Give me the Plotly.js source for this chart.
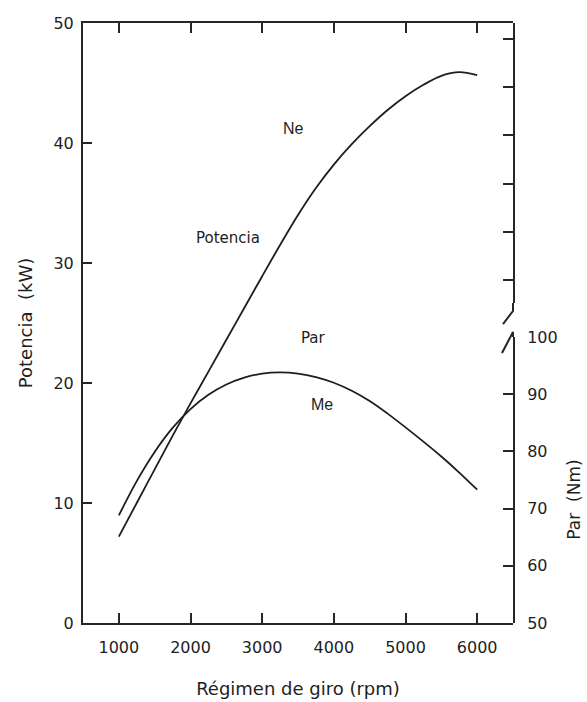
<!DOCTYPE html>
<html>
<head>
<meta charset="utf-8">
<script src="https://cdn.plot.ly/plotly-3.0.1.min.js"></script>
<style>html,body{margin:0;padding:0;background:#fff;}#chart{width:587px;height:702px;}</style>
</head>
<body>
<div id="chart"></div>
<script>
// Régimen de giro (rpm)
const rpm = [1000, 1250, 1500, 1750, 2000, 2250, 2500, 2750, 3000, 3250, 3500,
             3750, 4000, 4250, 4500, 4750, 5000, 5250, 5500, 5750, 6000];
// Potencia Ne (kW)
const potencia = [7.2, 10.0, 12.8, 15.6, 18.3, 20.95, 23.6, 26.25, 28.9, 31.5, 34.0,
                  36.25, 38.2, 39.9, 41.4, 42.75, 43.9, 44.85, 45.6, 45.9, 45.65];
// Par Me (Nm)
const par = [68.8, 74.8, 79.9, 84.1, 87.4, 89.9, 91.7, 92.9, 93.6, 93.8, 93.6,
             93.0, 92.0, 90.6, 88.8, 86.6, 84.2, 81.7, 79.1, 76.3, 73.3];

const xTicks = [1000, 2000, 3000, 4000, 5000, 6000];
const potTicks = [0, 10, 20, 30, 40, 50];
const parTicks = [50, 60, 70, 80, 90, 100];

const ink = '#1e1e1e';
const axisCol = '#262626';
const tickFont = {family: 'DejaVu Sans', size: 16, color: ink};
const titleFont = {family: 'DejaVu Sans', size: 18, color: ink};

const traces = [
  {x: rpm, y: potencia, xaxis: 'x', yaxis: 'y', type: 'scatter', mode: 'lines',
   line: {color: ink, width: 1.8, shape: 'spline', smoothing: 1}, name: 'Ne'},
  {x: rpm, y: par, xaxis: 'x', yaxis: 'y2', type: 'scatter', mode: 'lines',
   line: {color: ink, width: 1.8, shape: 'spline', smoothing: 1}, name: 'Me'},
  // empty trace so the upper (unlabelled) part of the broken right axis is drawn
  {x: [], y: [], xaxis: 'x', yaxis: 'y3', type: 'scatter', mode: 'lines', name: '', hoverinfo: 'skip'}
];

const layout = {
  width: 587, height: 702,
  margin: {l: 83, r: 74, t: 23, b: 79},
  paper_bgcolor: '#ffffff', plot_bgcolor: 'rgba(0,0,0,0)',
  showlegend: false,
  xaxis: {
    range: [500, 6500], tickvals: xTicks, ticktext: xTicks.map(String),
    ticks: 'inside', ticklen: 10, tickwidth: 2, tickcolor: axisCol,
    showline: true, linewidth: 2, linecolor: axisCol, mirror: 'ticks',
    showgrid: false, zeroline: false, tickfont: tickFont, ticklabelstandoff: 9,
    title: {text: 'Régimen de giro (rpm)', font: titleFont, standoff: 26},
    automargin: false
  },
  yaxis: {
    domain: [0, 1], range: [0, 50], tickvals: potTicks, ticktext: potTicks.map(String),
    ticks: 'inside', ticklen: 9, tickwidth: 2, tickcolor: axisCol,
    showline: true, linewidth: 2, linecolor: axisCol, mirror: false,
    showgrid: false, zeroline: false, tickfont: tickFont, ticklabelstandoff: 4,
    title: {text: 'Potencia  (kW)', font: titleFont, standoff: 16},
    automargin: false
  },
  yaxis2: {
    domain: [0, 0.4767], range: [50, 100], anchor: 'x', side: 'right',
    tickvals: parTicks, ticktext: parTicks.map(String),
    ticks: 'inside', ticklen: 10, tickwidth: 2, tickcolor: axisCol,
    showline: true, linewidth: 2, linecolor: axisCol,
    showgrid: false, zeroline: false, tickfont: tickFont, ticklabelstandoff: 9,
    automargin: false
  },
  yaxis3: {
    domain: [0.5333, 1], range: [0, 5.809], anchor: 'x', side: 'right',
    tick0: 0.477, dtick: 1, showticklabels: false,
    ticks: 'inside', ticklen: 10, tickwidth: 2, tickcolor: axisCol,
    showline: true, linewidth: 2, linecolor: axisCol,
    showgrid: false, zeroline: false, automargin: false
  },
  shapes: [
    {type: 'path', xref: 'paper', yref: 'paper', path: 'M 1,0.5333 L 1,0.52 L 0.9767,0.4983', line: {color: axisCol, width: 2}},
    {type: 'path', xref: 'paper', yref: 'paper', path: 'M 0.9744,0.45 L 1,0.485 L 1,0.4767', line: {color: axisCol, width: 2}}
  ],
  annotations: [
    {x: 3437, y: 41.25, xref: 'x', yref: 'y', text: 'Ne', showarrow: false,
     font: {family: 'Liberation Sans Narrow, Liberation Sans', size: 16, color: ink}},
    {x: 2518, y: 32.1, xref: 'x', yref: 'y', text: 'Potencia', showarrow: false,
     font: {family: 'DejaVu Sans', size: 15, color: ink}},
    {x: 3716, y: 23.75, xref: 'x', yref: 'y', text: 'Par', showarrow: false,
     font: {family: 'DejaVu Sans', size: 15, color: ink}},
    {x: 3841, y: 18.25, xref: 'x', yref: 'y', text: 'Me', showarrow: false,
     font: {family: 'Liberation Sans Narrow, Liberation Sans', size: 16, color: ink}},
    {x: 1.141, y: 0.205, xref: 'paper', yref: 'paper', text: 'Par  (Nm)', textangle: -90,
     showarrow: false, xanchor: 'center', yanchor: 'middle', font: {family: 'DejaVu Sans', size: 17, color: ink}}
  ]
};

Plotly.newPlot('chart', traces, layout, {displayModeBar: false, staticPlot: true});
</script>
</body>
</html>
